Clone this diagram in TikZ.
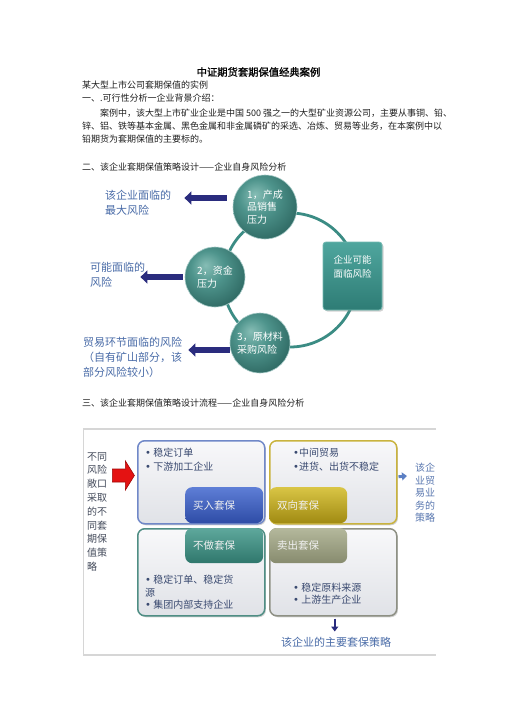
\documentclass[tikz,border=0pt]{standalone}
\usepackage{fontspec}
\setmainfont{Noto Sans CJK SC}
\newfontfamily\titlefont[FakeBold=1.2]{Noto Sans CJK SC}
\newfontfamily\dvfont{DejaVu Sans}
\newcommand\bul{{\dvfont •}}
\usetikzlibrary{arrows.meta,shadows,calc}
\definecolor{navy}{HTML}{2A2C7E}
\definecolor{dblue}{HTML}{4A6CA8}
\definecolor{ringcol}{HTML}{3B8C84}
\definecolor{ballL}{HTML}{86BDB5}
\definecolor{ballM}{HTML}{4E948C}
\definecolor{ballD}{HTML}{2B645E}
\definecolor{ballE}{HTML}{1B4541}
\definecolor{sqTop}{HTML}{4FA69E}
\definecolor{sqBot}{HTML}{2E7C75}
\definecolor{sqEdge}{HTML}{72B9B1}
\definecolor{boxTop}{HTML}{F8F8FA}
\definecolor{boxBot}{HTML}{E0E2E7}
\definecolor{edgeB}{HTML}{7088C8}
\definecolor{edgeO}{HTML}{C9B33E}
\definecolor{edgeT}{HTML}{4F8E84}
\definecolor{edgeG}{HTML}{8E9084}
\definecolor{lbT}{HTML}{5E7ED6}
\definecolor{lbB}{HTML}{2E4CA6}
\definecolor{loT}{HTML}{D9C545}
\definecolor{loB}{HTML}{A08A12}
\definecolor{ltT}{HTML}{5EA89C}
\definecolor{ltB}{HTML}{2F776C}
\definecolor{lgT}{HTML}{B4B89C}
\definecolor{lgB}{HTML}{878B6E}
\definecolor{btcol}{HTML}{3A4A70}
\definecolor{ltcol}{HTML}{454C5C}
\definecolor{rtcol}{HTML}{5A78B0}
\definecolor{rarrow}{HTML}{5B7FC4}
\definecolor{redA}{HTML}{E41212}
\definecolor{redB}{HTML}{A00808}
\definecolor{framecol}{HTML}{D6D6D6}
\pgfdeclareradialshading{tealball}{\pgfpoint{-8bp}{10bp}}{color(0bp)=(ballL);color(14bp)=(ballM);color(34bp)=(ballD);color(50bp)=(ballE);color(62bp)=(ballE)}
\begin{document}
\begin{tikzpicture}[x=1pt,y=-1pt,
  body/.style={anchor=base west, inner sep=0pt, text=black!88, font=\fontsize{9}{11}\selectfont},
  dtext/.style={anchor=west, inner sep=0pt, align=left, text=dblue, font=\fontsize{11}{15}\selectfont},
  ball/.style={circle, minimum size=#1, inner sep=0pt, shading=tealball, draw=white!55!ringcol, line width=0.6pt, text=white, align=left, font=\fontsize{10}{12.5}\selectfont},
  navyarr/.style={draw=navy, line width=5.5pt, -{Triangle[width=13pt,length=7pt]}},
  qbox/.style={anchor=north west, draw=#1, line width=1.5pt, rounded corners=7pt, top color=boxTop, bottom color=boxBot, minimum width=127pt, inner sep=0pt, drop shadow={opacity=0.35, shadow xshift=1.2pt, shadow yshift=-1.5pt}},
  lbl/.style n args={2}{anchor=north west, rounded corners=7pt, top color=#1, bottom color=#2, minimum width=78pt, text width=62pt, align=left, inner xsep=8pt, inner ysep=0pt, text=white!94!black, font=\fontsize{10.5}{12}\selectfont},
  btext/.style={anchor=west, inner sep=0pt, align=left, text=btcol, font=\fontsize{10}{14}\selectfont}
]
\useasboundingbox (0,0) rectangle (508,720);
\fill[white] (0,0) rectangle (508,720);

% ---------- text of the page ----------
\node[inner sep=0pt, font=\titlefont\fontsize{10.3}{12}\selectfont] (title) at (258.5,72) {中证期货套期保值经典案例};
\node[body] (l1) at (82,88.5) {某大型上市公司套期保值的实例};
\node[body] (l2) at (82,101.5) {一、.可行性分析一企业背景介绍：};
\node[body] (l3) at (100,116.5) {案例中，该大型上市矿业企业是中国 500 强之一的大型矿业资源公司，主要从事铜、铅、};
\node[body] (l4) at (82,129.5) {锌、铝、铁等基本金属、黑色金属和非金属磷矿的采选、冶炼、贸易等业务，在本案例中以};
\node[body] (l5) at (82,142.5) {铅期货为套期保值的主要标的。};
\node[body] (h2) at (82,170.5) {二、该企业套期保值策略设计——企业自身风险分析};
\node[body] (h3) at (82,406.5) {三、该企业套期保值策略设计流程——企业自身风险分析};

% ---------- diagram 1 ----------
\draw[ringcol, line width=2.8pt] (290,280) circle[radius=67pt];
\node[minimum width=59pt, minimum height=68pt, rounded corners=3pt, top color=sqTop, bottom color=sqBot, draw=sqEdge, line width=0.8pt,
  drop shadow={opacity=0.35, shadow xshift=1.5pt, shadow yshift=-1.5pt},
  label={[text=white, align=center, yshift=9pt, font=\fontsize{9.5}{14}\selectfont]center:{企业可能\\面临风险}}] (sq) at (352.5,276) {};
\node[ball=64pt] (c1) at (265,207) {1，产成\\品销售\\压力};
\node[ball=60pt] (c2) at (215,277) {2，资金\\压力};
\node[ball=60pt] (c3) at (260,343) {3，原材料\\采购风险};

\node[dtext] (t1) at (105,202.5) {该企业面临的\\最大风险};
\node[dtext] (t2) at (90,274.5) {可能面临的\\风险};
\node[dtext] (t3) at (83,357.5) {贸易环节面临的风险\\（自有矿山部分，该\\部分风险较小）};

\draw[navyarr] ($(c1.west)+(-6,-9)$) -- ($(t1.east)+(13,-4.5)$);
\draw[navyarr] ($(c2.west)+(-2,0)$) -- ($(t2.east)+(-5,2.5)$);
\draw[navyarr] ($(c3.west)+(0,7)$) -- ($(t3.east)+(6,-7.5)$);

% ---------- diagram 2 ----------
\draw[framecol, line width=2pt] (436,429) -- (83,429);
\draw[framecol, line width=2pt] (83,655) -- (436,655);
\draw[framecol, line width=0.8pt] (83,429) -- (83,655);

\node[qbox=edgeB, minimum height=83pt] (TL) at (137,440) {};
\node[qbox=edgeO, minimum height=83pt] (TR) at (269,440) {};
\node[qbox=edgeT, minimum height=87pt] (BL) at (137,528) {};
\node[qbox=edgeG, minimum height=87pt] (BR) at (269,528) {};

\node[lbl={lbT}{lbB}, minimum height=36pt] (Lb) at (185,487) {买入套保};
\node[lbl={loT}{loB}, minimum height=36pt] (Lo) at (269,487) {双向套保};
\node[lbl={ltT}{ltB}, minimum height=35pt] (Lt) at (185,528) {不做套保};
\node[lbl={lgT}{lgB}, minimum height=35pt] (Lg) at (269,528) {卖出套保};

\node[btext] (bTL) at (145,460) {\bul\ 稳定订单\\\bul\ 下游加工企业};
\node[btext] (bTR) at (293,460) {\bul 中间贸易\\\bul 进货、出货不稳定};
\node[btext, font=\fontsize{10}{12.5}\selectfont] (bBL) at (145,592.5) {\bul\ 稳定订单、稳定货\\源\\\bul\ 集团内部支持企业};
\node[btext, font=\fontsize{10}{12}\selectfont] (bBR) at (293,594) {\bul\ 稳定原料来源\\\bul\ 上游生产企业};

\node[anchor=west, inner sep=0pt, align=left, text=ltcol, font=\fontsize{10}{13.8}\selectfont] (lt) at (87,511.7)
  {不同\\风险\\敞口\\采取\\的不\\同套\\期保\\值策\\略};
\node[anchor=west, inner sep=0pt, align=left, text=rtcol, font=\fontsize{10}{12.5}\selectfont] (rt) at (415,493)
  {该企\\业贸\\易业\\务的\\策略};
\node[inner sep=0pt, text=dblue, font=\fontsize{11}{13}\selectfont] (bt) at (336,642) {该企业的主要套保策略};

\coordinate (rs) at ($(lt.east)+(5,-36.2)$);
\filldraw[fill=redA, draw=redB, line width=0.6pt, line join=miter] (rs) -- ++(0,-6.5) -- ++(13,0) -- ++(0,-8) -- ++(9,14.5) -- ++(-9,14.5) -- ++(0,-8) -- ++(-13,0) -- cycle;
\draw[rarrow, line width=3pt, -{Triangle[width=8pt,length=5pt]}] ($(TR.east)+(1,-5.5)$) -- ($(rt.west)+(-8,-17)$);
\draw[navy, line width=2.5pt, -{Triangle[width=7pt,length=5pt]}] ($(BR.south)+(1.5,2)$) -- ($(BR.south)+(1.5,15)$);
\end{tikzpicture}
\end{document}
